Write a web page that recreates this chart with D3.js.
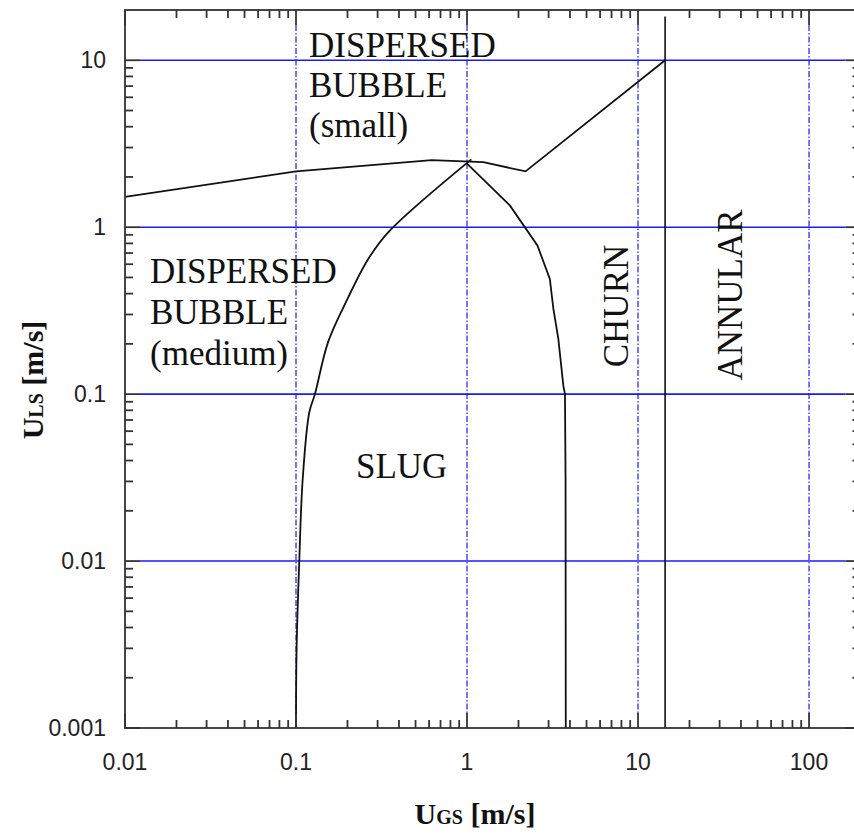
<!DOCTYPE html>
<html>
<head>
<meta charset="utf-8">
<script src="https://cdn.jsdelivr.net/npm/d3@7"></script>
<style>
  body { margin: 0; background: #fff; }
  svg { display: block; }
</style>
</head>
<body>
<svg id="chart" width="854" height="837"></svg>
<script>
// flow regime map, U_GS vs U_LS (log-log)
const xTickValues = [0.01, 0.1, 1, 10, 100];
const xTickLabels = ["0.01", "0.1", "1", "10", "100"];
const yTickValues = [0.001, 0.01, 0.1, 1, 10];
const yTickLabels = ["0.001", "0.01", "0.1", "1", "10"];
const vGridValues = [0.1, 1, 10, 100];
const hGridValues = [0.01, 0.1, 1, 10];

// dispersed bubble small / medium boundary
const topX = [0.01, 0.1, 0.622, 1.245, 2.2, 14.4];
const topY = [1.52, 2.16, 2.52, 2.45, 2.16, 10];
// slug boundary, left branch (bottom -> top)
const slugLeftX = [0.1, 0.1008, 0.1045, 0.1094, 0.1196, 0.129, 0.154, 0.2, 0.265, 0.347, 1.06];
const slugLeftY = [0.001, 0.003, 0.01, 0.0308, 0.0779, 0.1, 0.205, 0.372, 0.647, 0.935, 2.55];
// slug boundary, right branch (top -> bottom)
const slugRightX = [1.0, 1.78, 2.58, 3.05, 3.2, 3.42, 3.66, 3.74, 3.77, 3.78];
const slugRightY = [2.4, 1.35, 0.778, 0.49, 0.324, 0.214, 0.112, 0.1, 0.03, 0.001];
// churn / annular transition
const annularX = [14.4, 14.4];
const annularY = [0.001, 18.3];

const svg = d3.select("#chart");
const L = 125, R = 860.5, T = 10, B = 728;

const x = d3.scaleLog().domain([0.01, 200]).range([L, R]);
const y = d3.scaleLog().domain([0.001, 20]).range([B, T]);

const axisColor = "#333";
const blue = "#1a1aff";

// minor tick positions
function minorTicks(lo, hi) {
  const out = [];
  for (let d = Math.floor(Math.log10(lo)); d <= Math.ceil(Math.log10(hi)); d++) {
    for (let m = 2; m <= 9; m++) {
      const v = m * Math.pow(10, d);
      if (v > lo && v < hi) out.push(v);
    }
  }
  return out;
}

// grid
const grid = svg.append("g");
grid.selectAll("line.h").data(hGridValues).enter().append("line")
  .attr("x1", L + 15).attr("x2", R - 15)
  .attr("y1", d => y(d)).attr("y2", d => y(d))
  .attr("stroke", blue).attr("stroke-width", 1.6);
grid.selectAll("line.v").data(vGridValues).enter().append("line")
  .attr("x1", d => x(d)).attr("x2", d => x(d))
  .attr("y1", T + 15).attr("y2", B - 15)
  .attr("stroke", blue).attr("stroke-width", 1.2)
  .attr("stroke-dasharray", "6,2,1.5,2");

// boundaries
const line = d3.line().x(d => x(d[0])).y(d => y(d[1]));
const curve = d3.line().x(d => x(d[0])).y(d => y(d[1])).curve(d3.curveCatmullRom.alpha(0.5));
const bnd = svg.append("g").attr("fill", "none").attr("stroke", "#111").attr("stroke-width", 1.8);
bnd.append("path").attr("d", line(d3.zip(topX, topY)));
bnd.append("path").attr("d", curve(d3.zip(slugLeftX, slugLeftY)));
bnd.append("path").attr("d", line(d3.zip(slugRightX, slugRightY)));
bnd.append("path").attr("d", line(d3.zip(annularX, annularY))).attr("stroke-width", 1.6);

// frame
const frame = svg.append("g").attr("stroke", axisColor).attr("stroke-width", 1.8);
frame.append("rect").attr("x", L).attr("y", T).attr("width", R - L).attr("height", B - T).attr("fill", "none");

const xMinor = minorTicks(0.01, 200), yMinor = minorTicks(0.001, 20);
const tick = (sel, data, len, horiz, side) => {
  sel.selectAll(null).data(data).enter().append("line")
    .attr("x1", d => horiz ? x(d) : side)
    .attr("x2", d => horiz ? x(d) : side + len)
    .attr("y1", d => horiz ? side : y(d))
    .attr("y2", d => horiz ? side + len : y(d));
};
tick(frame, xTickValues, -15, true, B);
tick(frame, xMinor, -8, true, B);
tick(frame, xTickValues, 15, true, T);
tick(frame, xMinor, 8, true, T);
tick(frame, yTickValues, 15, false, L);
tick(frame, yMinor, 8, false, L);
tick(frame, yTickValues, -15, false, R);
tick(frame, yMinor, -8, false, R);

// tick labels
const tickFont = "'Liberation Sans', Arial, sans-serif";
svg.append("g").selectAll("text").data(xTickValues).enter().append("text")
  .attr("x", d => x(d)).attr("y", 770)
  .attr("text-anchor", "middle")
  .attr("font-family", tickFont).attr("font-size", 23).attr("fill", "#222")
  .text((d, i) => xTickLabels[i]);
svg.append("g").selectAll("text").data(yTickValues).enter().append("text")
  .attr("x", 106).attr("y", d => y(d) + 8)
  .attr("text-anchor", "end")
  .attr("font-family", tickFont).attr("font-size", 23).attr("fill", "#222")
  .text((d, i) => yTickLabels[i]);

// axis titles
const serif = "'Liberation Serif', 'Times New Roman', serif";
const xt = svg.append("text").attr("x", 475).attr("y", 824)
  .attr("text-anchor", "middle").attr("font-family", serif)
  .attr("font-weight", "bold").attr("font-size", 30).attr("fill", "#111");
xt.append("tspan").text("U");
xt.append("tspan").attr("font-size", 20).text("GS");
xt.append("tspan").text(" [m/s]");

const yt = svg.append("text").attr("transform", "translate(43,380) rotate(-90)")
  .attr("text-anchor", "middle").attr("font-family", serif)
  .attr("font-weight", "bold").attr("font-size", 30).attr("fill", "#111");
yt.append("tspan").text("U");
yt.append("tspan").attr("font-size", 20).text("LS");
yt.append("tspan").text(" [m/s]");

// region labels
const lab = svg.append("g").attr("font-family", serif).attr("font-size", 35).attr("fill", "#111");
const block = (lines, x0, ys) => lines.forEach((t, i) =>
  lab.append("text").attr("x", x0).attr("y", ys[i]).text(t));
block(["DISPERSED", "BUBBLE", "(small)"], 309, [57, 97, 137]);
block(["DISPERSED", "BUBBLE", "(medium)"], 150, [283, 324, 365]);
lab.append("text").attr("x", 356).attr("y", 478).text("SLUG");
lab.append("text").attr("transform", "translate(628,306) rotate(-90)")
  .attr("text-anchor", "middle").text("CHURN");
lab.append("text").attr("transform", "translate(742,295) rotate(-90)")
  .attr("text-anchor", "middle").text("ANNULAR");
</script>
</body>
</html>
